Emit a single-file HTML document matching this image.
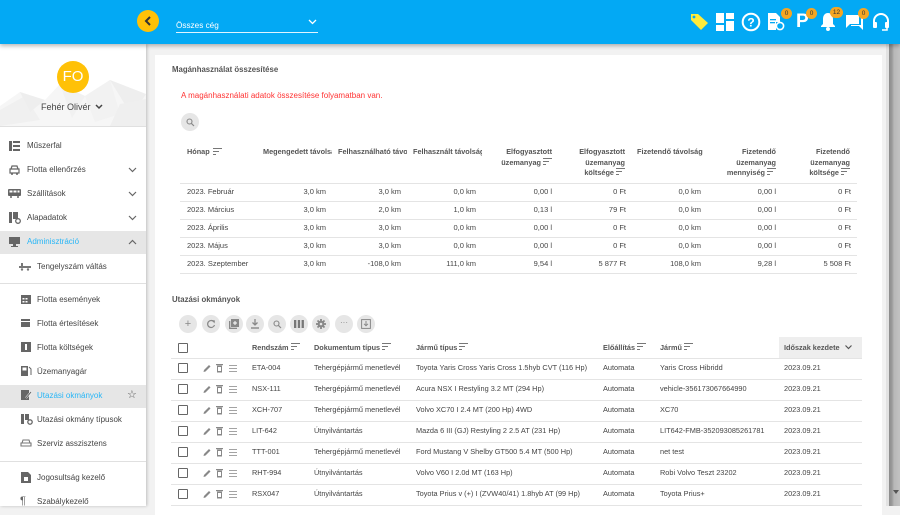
<!DOCTYPE html>
<html><head><meta charset="utf-8">
<style>
*{box-sizing:border-box;margin:0;padding:0}
body{width:900px;height:506px;overflow:hidden;background:#f2f2f2;font-family:"Liberation Sans",Arial,sans-serif;position:relative;color:#333}
.a{position:absolute;white-space:nowrap}
.m{position:absolute;font-size:8px;line-height:10px;color:#444;white-space:nowrap}
.hd{position:absolute;font-size:7.3px;line-height:10.5px;font-weight:bold;color:#555;white-space:nowrap}
.r{text-align:right}
.c{position:absolute;font-size:7.5px;line-height:10px;color:#444;white-space:nowrap}
.l{position:absolute;font-size:7.35px;line-height:10px;color:#444;white-space:nowrap}
.hl{position:absolute;height:1px;background:#e4e4e4}
.cb{position:absolute;width:10px;height:10px;border:1.4px solid #666;border-radius:1px}
.tb{position:absolute;width:18px;height:18px;border-radius:50%;background:#e6e6e6}
.badge{position:absolute;width:11px;height:11px;border-radius:50%;background:#f5a623;color:#333;font-size:6.5px;line-height:11px;text-align:center}
</style></head><body>

<!-- main card -->
<div class="a" style="left:155px;top:55px;width:727px;height:460px;background:#fff"></div>

<!-- scrollbar -->
<div class="a" style="left:886px;top:44px;width:14px;height:462px;background:#e2e2e2"></div>
<div class="a" style="left:889px;top:44px;width:11px;height:462px;background:linear-gradient(to right,#8c8c8c 0,#9a9a9a 3px,#b8b8b8 5px,#c2c2c2 11px)"></div>
<svg class="a" style="left:893px;top:490px" width="6" height="5"><path d="M0 0L6 0L3 4Z" fill="#555"/></svg>

<!-- top bar -->
<div class="a" style="left:0;top:0;width:900px;height:44px;background:#03a9f4;box-shadow:0 2px 4px rgba(0,0,0,.28);z-index:5">
  <div class="a" style="left:137px;top:10px;width:22px;height:22px;border-radius:50%;background:#ffc107"></div>
  <svg class="a" style="left:143px;top:15px" width="10" height="12"><polyline points="7,2 3,6 7,10" fill="none" stroke="#333" stroke-width="2"/></svg>
  <div class="a" style="left:176px;top:20px;font-size:8.2px;line-height:11px;color:#fff">Összes cég</div>
  <div class="a" style="left:176px;top:32px;width:142px;height:1px;background:#e0f4ff"></div>
  <svg class="a" style="left:308px;top:19px" width="9" height="6"><polyline points="1,1 4.5,4.5 8,1" fill="none" stroke="#fff" stroke-width="1.3"/></svg>
  <svg class="a" style="left:689px;top:12px" width="20" height="19" viewBox="0 0 20 19"><path d="M2 2 L9 2 L19 11 L12 18 L2 8 Z" fill="#ffeb3b"/><circle cx="5" cy="5" r="1.4" fill="#03a9f4"/></svg>
  <svg class="a" style="left:716px;top:13px" width="18" height="18" viewBox="0 0 18 18" fill="#fff"><rect x="0" y="0" width="8" height="10"/><rect x="0" y="12" width="8" height="6"/><rect x="10" y="8" width="8" height="10"/><rect x="10" y="0" width="8" height="6"/></svg>
  <svg class="a" style="left:741px;top:12px" width="20" height="20" viewBox="0 0 20 20"><circle cx="10" cy="10" r="8.3" fill="none" stroke="#fff" stroke-width="2"/><text x="10" y="14.5" font-size="12" font-weight="bold" fill="#fff" text-anchor="middle" font-family="Liberation Sans">?</text></svg>
  <svg class="a" style="left:767px;top:13px" width="18" height="18" viewBox="0 0 18 18"><path d="M1 0H9L13 4V9H9V17H1Z" fill="#fff"/><rect x="3" y="6" width="6" height="1.3" fill="#03a9f4"/><rect x="3" y="9" width="5" height="1.3" fill="#03a9f4"/><circle cx="13" cy="13" r="3.6" fill="none" stroke="#fff" stroke-width="1.6"/></svg>
  <div class="badge" style="left:781px;top:8px">0</div>
  <div class="a" style="left:796px;top:11px;font-size:19px;line-height:21px;font-weight:bold;color:#fff">P</div>
  <div class="badge" style="left:806px;top:8px">0</div>
  <svg class="a" style="left:820px;top:12px" width="16" height="19" viewBox="0 0 16 19"><path d="M8 1C4.5 1 3 4 3 7V12L1 14V15H15V14L13 12V7C13 4 11.5 1 8 1Z" fill="#fff"/><circle cx="8" cy="17" r="2" fill="#fff"/></svg>
  <div class="badge" style="left:830px;top:7px;width:13px;border-radius:6px">12</div>
  <svg class="a" style="left:845px;top:13px" width="19" height="18" viewBox="0 0 19 18"><path d="M1 2H14V11H5L1 15Z" fill="#fff"/><path d="M16 5H18V17L14 13H6V12H16Z" fill="#fff"/></svg>
  <div class="badge" style="left:858px;top:8px">0</div>
  <svg class="a" style="left:872px;top:12px" width="18" height="20" viewBox="0 0 18 20"><path d="M2 13V9A7 7 0 0 1 16 9V13" fill="none" stroke="#fff" stroke-width="2"/><rect x="1" y="10" width="4" height="6" rx="1" fill="#fff"/><rect x="13" y="10" width="4" height="6" rx="1" fill="#fff"/><path d="M15 16V18H10" fill="none" stroke="#fff" stroke-width="1.5"/></svg>
</div>

<!-- sidebar -->
<div class="a" style="left:0;top:44px;width:146px;height:462px;background:#fff;box-shadow:1px 0 3px rgba(0,0,0,.22);z-index:2;overflow:hidden">
  <svg class="a" style="left:0;top:0" width="146" height="82" viewBox="0 0 146 82">
    <polygon points="0,62 20,48 45,56 60,40 85,52 110,36 146,50 146,82 0,82" fill="#f6f6f6"/>
    <polygon points="0,66 25,52 40,76 0,82" fill="#f0f0f0"/>
    <polygon points="60,40 85,52 72,74" fill="#f1f1f1"/>
    <polygon points="110,36 146,50 132,72" fill="#eeeeee"/>
    <polygon points="20,48 45,56 30,68" fill="#eeeeee"/>
    <polygon points="85,52 110,36 120,70 95,78" fill="#f2f2f2"/>
    <polygon points="120,60 146,55 146,82 110,82" fill="#efefef"/>
  </svg>
  <div class="a" style="left:57px;top:17px;width:32px;height:32px;border-radius:50%;background:#ffc107;color:#fff;font-size:15px;line-height:32px;text-align:center">FO</div>
  <div class="a" style="left:41px;top:57px;font-size:9px;line-height:12px;color:#444">Fehér Olivér</div>
  <svg class="a" style="left:95px;top:60px" width="8" height="6"><polyline points="1,1 4,4 7,1" fill="none" stroke="#444" stroke-width="1.5"/></svg>
  <div class="a" style="left:0;top:82px;width:146px;height:1px;background:#e0e0e0"></div>
</div>

<div style="position:absolute;left:0;top:0;z-index:3">
  <div class="a" style="left:0;top:231px;width:146px;height:23px;background:#e6e6e6"></div>
  <div class="a" style="left:0;top:385px;width:146px;height:23px;background:#e6e6e6"></div>
  <div class="a" style="left:0;top:283px;width:146px;height:1px;background:#e0e0e0"></div>
  <div class="a" style="left:0;top:461px;width:146px;height:1px;background:#e0e0e0"></div>

  <svg class="a" style="left:9px;top:141px" width="11" height="10"><rect x="0" y="0" width="3" height="10" fill="#666"/><rect x="4" y="0" width="7" height="2" fill="#666"/><rect x="4" y="4" width="7" height="2" fill="#666"/><rect x="4" y="8" width="7" height="2" fill="#666"/></svg>
  <svg class="a" style="left:9px;top:165px" width="11" height="10"><path d="M2 4L3 1H8L9 4M1 4H10V8H1Z" fill="none" stroke="#666" stroke-width="1.2"/><circle cx="3" cy="9" r="1" fill="#666"/><circle cx="8" cy="9" r="1" fill="#666"/></svg>
  <svg class="a" style="left:8px;top:189px" width="13" height="9"><rect x="0" y="0" width="13" height="7" rx="1" fill="#666"/><rect x="1.5" y="1.5" width="3" height="2" fill="#fff"/><rect x="5.5" y="1.5" width="3" height="2" fill="#fff"/><rect x="9.5" y="1.5" width="2" height="2" fill="#fff"/><circle cx="3" cy="8" r="1" fill="#666"/><circle cx="10" cy="8" r="1" fill="#666"/></svg>
  <svg class="a" style="left:9px;top:212px" width="12" height="12"><rect x="0" y="0" width="3" height="11" fill="#666"/><rect x="4" y="0" width="5" height="7" fill="#666"/><circle cx="9" cy="9" r="2.3" fill="none" stroke="#666" stroke-width="1.3"/></svg>
  <svg class="a" style="left:9px;top:237px" width="11" height="10"><rect x="0" y="0" width="11" height="7" fill="#666"/><rect x="4" y="7" width="3" height="2" fill="#666"/><rect x="2" y="9" width="7" height="1" fill="#666"/></svg>

  <div class="m" style="left:27px;top:141px">Műszerfal</div>
  <div class="m" style="left:27px;top:165px">Flotta ellenőrzés</div>
  <div class="m" style="left:27px;top:189px">Szállítások</div>
  <div class="m" style="left:27px;top:213px">Alapadatok</div>
  <div class="m" style="left:27px;top:237px;color:#29b6f6">Adminisztráció</div>
  <svg class="a" style="left:128px;top:167px" width="9" height="6"><polyline points="1,1 4.5,4.5 8,1" fill="none" stroke="#666" stroke-width="1.2"/></svg>
  <svg class="a" style="left:128px;top:191px" width="9" height="6"><polyline points="1,1 4.5,4.5 8,1" fill="none" stroke="#666" stroke-width="1.2"/></svg>
  <svg class="a" style="left:128px;top:215px" width="9" height="6"><polyline points="1,1 4.5,4.5 8,1" fill="none" stroke="#666" stroke-width="1.2"/></svg>
  <svg class="a" style="left:128px;top:239px" width="9" height="6"><polyline points="1,5 4.5,1.5 8,5" fill="none" stroke="#666" stroke-width="1.2"/></svg>

  <svg class="a" style="left:19px;top:262px" width="12" height="9"><rect x="0" y="4" width="12" height="2" fill="#777"/><rect x="2" y="1" width="2" height="5" fill="#777"/><circle cx="3" cy="7.5" r="1.2" fill="#777"/><circle cx="9" cy="7.5" r="1.2" fill="#777"/></svg>
  <svg class="a" style="left:21px;top:294px" width="10" height="10"><rect x="0" y="1" width="10" height="9" fill="#666"/><rect x="1.5" y="4" width="2" height="1.5" fill="#fff"/><rect x="4.5" y="4" width="2" height="1.5" fill="#fff"/><rect x="1.5" y="7" width="2" height="1.5" fill="#fff"/><rect x="4.5" y="7" width="2" height="1.5" fill="#fff"/></svg>
  <svg class="a" style="left:21px;top:318px" width="10" height="10"><rect x="0" y="1" width="9" height="8" fill="#666"/><rect x="0" y="3" width="9" height="1" fill="#fff"/></svg>
  <svg class="a" style="left:21px;top:342px" width="10" height="10"><rect x="0" y="0" width="10" height="10" fill="#666"/><rect x="4" y="2" width="2" height="6" fill="#fff"/></svg>
  <svg class="a" style="left:21px;top:366px" width="11" height="10"><rect x="0" y="0" width="7" height="10" fill="#666"/><rect x="1.5" y="1.5" width="4" height="3" fill="#fff"/><path d="M8 1L10 3V9" fill="none" stroke="#666" stroke-width="1"/></svg>
  <svg class="a" style="left:21px;top:390px" width="11" height="10"><rect x="0" y="0" width="8" height="10" fill="#666"/><path d="M5 8L10 2" stroke="#fff" stroke-width="2"/><path d="M5 8L10 2" stroke="#666" stroke-width="1"/></svg>
  <svg class="a" style="left:21px;top:414px" width="12" height="11"><rect x="0" y="0" width="3" height="10" fill="#666"/><rect x="4" y="0" width="4" height="6" fill="#666"/><circle cx="9" cy="8" r="2.2" fill="none" stroke="#666" stroke-width="1.3"/></svg>
  <svg class="a" style="left:20px;top:439px" width="12" height="9"><path d="M2 4L3 1H9L10 4M1 4H11V7H1Z" fill="none" stroke="#777" stroke-width="1.1"/></svg>
  <svg class="a" style="left:21px;top:472px" width="10" height="11"><path d="M0 0H7L10 3V11H0Z" fill="#666"/><rect x="3" y="5" width="4" height="4" fill="#fff"/></svg>
  <div class="a" style="left:20px;top:495px;font-size:11px;line-height:12px;color:#666">¶</div>

  <div class="m" style="left:37px;top:262px">Tengelyszám váltás</div>
  <div class="m" style="left:37px;top:295px">Flotta események</div>
  <div class="m" style="left:37px;top:319px">Flotta értesítések</div>
  <div class="m" style="left:37px;top:343px">Flotta költségek</div>
  <div class="m" style="left:37px;top:367px">Üzemanyagár</div>
  <div class="m" style="left:37px;top:391px;color:#29b6f6">Utazási okmányok</div>
  <div class="m" style="left:37px;top:415px">Utazási okmány típusok</div>
  <div class="m" style="left:37px;top:439px">Szerviz asszisztens</div>
  <div class="m" style="left:37px;top:473px">Jogosultság kezelő</div>
  <div class="m" style="left:37px;top:497px">Szabálykezelő</div>
  <div class="a" style="left:127px;top:389px;font-size:11px;line-height:13px;color:#555">☆</div>
</div>

<!-- upper card content -->
<div class="a" style="left:172px;top:65px;font-size:7.8px;line-height:10px;font-weight:bold;color:#555">Magánhasználat összesítése</div>
<div class="a" style="left:181px;top:91px;font-size:8px;line-height:10px;color:#f33">A magánhasználati adatok összesítése folyamatban van.</div>
<div class="tb" style="left:181px;top:113px"></div>
<svg class="a" style="left:186px;top:118px" width="9" height="9"><circle cx="3.5" cy="3.5" r="2.5" fill="none" stroke="#888" stroke-width="1.1"/><line x1="5.3" y1="5.3" x2="8" y2="8" stroke="#888" stroke-width="1.2"/></svg>

<div class="hd" style="left:187px;top:147px">Hónap</div>
<svg class="a" style="left:213px;top:148px" width="9" height="7"><g stroke="#777" stroke-width="1"><line x1="0" y1="0.5" x2="9" y2="0.5"/><line x1="0" y1="3.5" x2="6" y2="3.5"/><line x1="0" y1="6.5" x2="3" y2="6.5"/></g></svg>
<div class="hd" style="left:263px;top:147px;width:69px;overflow:hidden">Megengedett távolság</div>
<div class="hd" style="left:338px;top:147px;width:69px;overflow:hidden">Felhasználható távolság</div>
<div class="hd" style="left:413px;top:147px;width:69px;overflow:hidden">Felhasznált távolság</div>
<div class="hd r" style="left:482px;top:147px;width:70px">Elfogyasztott<br>üzemanyag <svg width="9" height="7"><g stroke="#777" stroke-width="1"><line x1="0" y1="0.5" x2="9" y2="0.5"/><line x1="0" y1="3.5" x2="6" y2="3.5"/><line x1="0" y1="6.5" x2="3" y2="6.5"/></g></svg></div>
<div class="hd r" style="left:555px;top:147px;width:70px">Elfogyasztott<br>üzemanyag<br>költsége <svg width="9" height="7"><g stroke="#777" stroke-width="1"><line x1="0" y1="0.5" x2="9" y2="0.5"/><line x1="0" y1="3.5" x2="6" y2="3.5"/><line x1="0" y1="6.5" x2="3" y2="6.5"/></g></svg></div>
<div class="hd" style="left:637px;top:147px;width:70px;overflow:hidden">Fizetendő távolság</div>
<div class="hd r" style="left:706px;top:147px;width:70px">Fizetendő<br>üzemanyag<br>mennyiség <svg width="9" height="7"><g stroke="#777" stroke-width="1"><line x1="0" y1="0.5" x2="9" y2="0.5"/><line x1="0" y1="3.5" x2="6" y2="3.5"/><line x1="0" y1="6.5" x2="3" y2="6.5"/></g></svg></div>
<div class="hd r" style="left:780px;top:147px;width:70px">Fizetendő<br>üzemanyag<br>költsége <svg width="9" height="7"><g stroke="#777" stroke-width="1"><line x1="0" y1="0.5" x2="9" y2="0.5"/><line x1="0" y1="3.5" x2="6" y2="3.5"/><line x1="0" y1="6.5" x2="3" y2="6.5"/></g></svg></div>

<div class="hl" style="left:180px;top:183px;width:677px"></div>
<div class="hl" style="left:180px;top:201px;width:677px"></div>
<div class="hl" style="left:180px;top:219px;width:677px"></div>
<div class="hl" style="left:180px;top:237px;width:677px"></div>
<div class="hl" style="left:180px;top:255px;width:677px"></div>
<div class="hl" style="left:180px;top:273px;width:677px"></div>

<div class="a" style="left:0;top:187px">
<div class="c" style="left:187px">2023. Február</div>
<div class="c r" style="left:256px;width:70px">3,0 km</div><div class="c r" style="left:331px;width:70px">3,0 km</div><div class="c r" style="left:406px;width:70px">0,0 km</div><div class="c r" style="left:482px;width:70px">0,00 l</div><div class="c r" style="left:556px;width:70px">0 Ft</div><div class="c r" style="left:631px;width:70px">0,0 km</div><div class="c r" style="left:706px;width:70px">0,00 l</div><div class="c r" style="left:781px;width:70px">0 Ft</div>
</div>
<div class="a" style="left:0;top:205px">
<div class="c" style="left:187px">2023. Március</div>
<div class="c r" style="left:256px;width:70px">3,0 km</div><div class="c r" style="left:331px;width:70px">2,0 km</div><div class="c r" style="left:406px;width:70px">1,0 km</div><div class="c r" style="left:482px;width:70px">0,13 l</div><div class="c r" style="left:556px;width:70px">79 Ft</div><div class="c r" style="left:631px;width:70px">0,0 km</div><div class="c r" style="left:706px;width:70px">0,00 l</div><div class="c r" style="left:781px;width:70px">0 Ft</div>
</div>
<div class="a" style="left:0;top:223px">
<div class="c" style="left:187px">2023. Április</div>
<div class="c r" style="left:256px;width:70px">3,0 km</div><div class="c r" style="left:331px;width:70px">3,0 km</div><div class="c r" style="left:406px;width:70px">0,0 km</div><div class="c r" style="left:482px;width:70px">0,00 l</div><div class="c r" style="left:556px;width:70px">0 Ft</div><div class="c r" style="left:631px;width:70px">0,0 km</div><div class="c r" style="left:706px;width:70px">0,00 l</div><div class="c r" style="left:781px;width:70px">0 Ft</div>
</div>
<div class="a" style="left:0;top:241px">
<div class="c" style="left:187px">2023. Május</div>
<div class="c r" style="left:256px;width:70px">3,0 km</div><div class="c r" style="left:331px;width:70px">3,0 km</div><div class="c r" style="left:406px;width:70px">0,0 km</div><div class="c r" style="left:482px;width:70px">0,00 l</div><div class="c r" style="left:556px;width:70px">0 Ft</div><div class="c r" style="left:631px;width:70px">0,0 km</div><div class="c r" style="left:706px;width:70px">0,00 l</div><div class="c r" style="left:781px;width:70px">0 Ft</div>
</div>
<div class="a" style="left:0;top:259px">
<div class="c" style="left:187px">2023. Szeptember</div>
<div class="c r" style="left:256px;width:70px">3,0 km</div><div class="c r" style="left:331px;width:70px">-108,0 km</div><div class="c r" style="left:406px;width:70px">111,0 km</div><div class="c r" style="left:482px;width:70px">9,54 l</div><div class="c r" style="left:556px;width:70px">5 877 Ft</div><div class="c r" style="left:631px;width:70px">108,0 km</div><div class="c r" style="left:706px;width:70px">9,28 l</div><div class="c r" style="left:781px;width:70px">5 508 Ft</div>
</div>

<!-- lower section -->
<div class="a" style="left:172px;top:295px;font-size:7.8px;line-height:10px;font-weight:bold;color:#555">Utazási okmányok</div>

<div class="tb" style="left:179px;top:315px"></div><div class="a" style="left:179px;top:315px;width:18px;font-size:11px;line-height:18px;text-align:center;color:#888">+</div>
<div class="tb" style="left:202px;top:315px"></div><svg class="a" style="left:206px;top:319px" width="10" height="10"><path d="M8 3A3.5 3.5 0 1 0 8.5 6" fill="none" stroke="#888" stroke-width="1.2"/><path d="M6 1L9 1.5 8.5 4.5Z" fill="#888"/></svg>
<div class="tb" style="left:225px;top:315px"></div><svg class="a" style="left:229px;top:319px" width="10" height="10"><rect x="2" y="0" width="8" height="8" fill="#888"/><rect x="0" y="2" width="1.3" height="8" fill="#888"/><rect x="0" y="8.7" width="8" height="1.3" fill="#888"/><path d="M6 2V6M4 4H8" stroke="#fff" stroke-width="1"/></svg>
<div class="tb" style="left:246px;top:315px"></div><svg class="a" style="left:250px;top:319px" width="10" height="10"><path d="M5 0V6M2.5 3.5L5 6 7.5 3.5" fill="none" stroke="#888" stroke-width="1.3"/><rect x="1" y="8.3" width="8" height="1.4" fill="#888"/></svg>
<div class="tb" style="left:268px;top:315px"></div><svg class="a" style="left:273px;top:320px" width="9" height="9"><circle cx="3.5" cy="3.5" r="2.5" fill="none" stroke="#888" stroke-width="1.1"/><line x1="5.3" y1="5.3" x2="8" y2="8" stroke="#888" stroke-width="1.2"/></svg>
<div class="tb" style="left:290px;top:315px"></div><svg class="a" style="left:294px;top:320px" width="10" height="8"><rect x="0" y="0" width="2.3" height="8" fill="#777"/><rect x="3.8" y="0" width="2.3" height="8" fill="#777"/><rect x="7.6" y="0" width="2.3" height="8" fill="#777"/></svg>
<div class="tb" style="left:312px;top:315px"></div><svg class="a" style="left:316px;top:319px" width="10" height="10"><circle cx="5" cy="5" r="3.4" fill="#888"/><g stroke="#888" stroke-width="1.8"><line x1="5" y1="0" x2="5" y2="10"/><line x1="0" y1="5" x2="10" y2="5"/><line x1="1.5" y1="1.5" x2="8.5" y2="8.5"/><line x1="8.5" y1="1.5" x2="1.5" y2="8.5"/></g><circle cx="5" cy="5" r="1.3" fill="#e6e6e6"/></svg>
<div class="tb" style="left:335px;top:315px"></div><div class="a" style="left:335px;top:315px;width:18px;font-size:8px;line-height:16px;text-align:center;color:#888">···</div>
<div class="tb" style="left:357px;top:315px"></div><svg class="a" style="left:361px;top:319px" width="10" height="10"><rect x="0.6" y="0.6" width="8.8" height="8.8" fill="none" stroke="#888" stroke-width="1"/><path d="M5 2V6.5M3 4.8L5 6.8 7 4.8" fill="none" stroke="#888" stroke-width="1"/></svg>

<div class="a" style="left:779px;top:337px;width:83px;height:21px;background:#eeeeee"></div>
<div class="cb" style="left:178px;top:343px"></div>
<div class="hd" style="left:252px;top:343px">Rendszám <svg width="9" height="7"><g stroke="#777" stroke-width="1"><line x1="0" y1="0.5" x2="9" y2="0.5"/><line x1="0" y1="3.5" x2="6" y2="3.5"/><line x1="0" y1="6.5" x2="3" y2="6.5"/></g></svg></div>
<div class="hd" style="left:314px;top:343px">Dokumentum típus <svg width="9" height="7"><g stroke="#777" stroke-width="1"><line x1="0" y1="0.5" x2="9" y2="0.5"/><line x1="0" y1="3.5" x2="6" y2="3.5"/><line x1="0" y1="6.5" x2="3" y2="6.5"/></g></svg></div>
<div class="hd" style="left:416px;top:343px">Jármű típus <svg width="9" height="7"><g stroke="#777" stroke-width="1"><line x1="0" y1="0.5" x2="9" y2="0.5"/><line x1="0" y1="3.5" x2="6" y2="3.5"/><line x1="0" y1="6.5" x2="3" y2="6.5"/></g></svg></div>
<div class="hd" style="left:603px;top:343px">Előállítás <svg width="9" height="7"><g stroke="#777" stroke-width="1"><line x1="0" y1="0.5" x2="9" y2="0.5"/><line x1="0" y1="3.5" x2="6" y2="3.5"/><line x1="0" y1="6.5" x2="3" y2="6.5"/></g></svg></div>
<div class="hd" style="left:660px;top:343px">Jármű <svg width="9" height="7"><g stroke="#777" stroke-width="1"><line x1="0" y1="0.5" x2="9" y2="0.5"/><line x1="0" y1="3.5" x2="6" y2="3.5"/><line x1="0" y1="6.5" x2="3" y2="6.5"/></g></svg></div>
<div class="hd" style="left:784px;top:343px">Időszak kezdete</div>
<svg class="a" style="left:845px;top:345px" width="7" height="5"><polyline points="0.5,0.5 3.5,3.5 6.5,0.5" fill="none" stroke="#555" stroke-width="1.2"/></svg>

<div class="hl" style="left:171px;top:358px;width:691px"></div>
<div class="hl" style="left:171px;top:379px;width:691px"></div>
<div class="hl" style="left:171px;top:400px;width:691px"></div>
<div class="hl" style="left:171px;top:421px;width:691px"></div>
<div class="hl" style="left:171px;top:442px;width:691px"></div>
<div class="hl" style="left:171px;top:463px;width:691px"></div>
<div class="hl" style="left:171px;top:484px;width:691px"></div>
<div class="hl" style="left:171px;top:505px;width:691px"></div>

<div class="a" style="left:0;top:363px">
<div class="cb" style="left:178px;top:0"></div>
<svg class="a" style="left:203px;top:1px" width="22" height="9"><path d="M0.5 8L1 6 6 1 7.5 2.5 2.5 7.5Z" fill="#888"/><rect x="14" y="1.5" width="5" height="7" fill="#888"/><rect x="13" y="0" width="7" height="1.2" fill="#888"/><rect x="15" y="3" width="3" height="4" fill="#fff"/></svg>
<svg class="a" style="left:229px;top:1px" width="9" height="9"><g stroke="#999" stroke-width="0.9"><line x1="0" y1="1.5" x2="8" y2="1.5"/><line x1="0" y1="4.5" x2="8" y2="4.5"/><line x1="0" y1="7.5" x2="8" y2="7.5"/></g></svg>
<div class="l" style="left:252px">ETA-004</div><div class="l" style="left:314px">Tehergépjármű menetlevél</div><div class="l" style="left:416px">Toyota Yaris Cross Yaris Cross 1.5hyb CVT (116 Hp)</div><div class="l" style="left:603px">Automata</div><div class="l" style="left:660px">Yaris Cross Hibridd</div><div class="l" style="left:784px">2023.09.21</div>
</div>
<div class="a" style="left:0;top:384px">
<div class="cb" style="left:178px;top:0"></div>
<svg class="a" style="left:203px;top:1px" width="22" height="9"><path d="M0.5 8L1 6 6 1 7.5 2.5 2.5 7.5Z" fill="#888"/><rect x="14" y="1.5" width="5" height="7" fill="#888"/><rect x="13" y="0" width="7" height="1.2" fill="#888"/><rect x="15" y="3" width="3" height="4" fill="#fff"/></svg>
<svg class="a" style="left:229px;top:1px" width="9" height="9"><g stroke="#999" stroke-width="0.9"><line x1="0" y1="1.5" x2="8" y2="1.5"/><line x1="0" y1="4.5" x2="8" y2="4.5"/><line x1="0" y1="7.5" x2="8" y2="7.5"/></g></svg>
<div class="l" style="left:252px">NSX-111</div><div class="l" style="left:314px">Tehergépjármű menetlevél</div><div class="l" style="left:416px">Acura NSX I Restyling 3.2 MT (294 Hp)</div><div class="l" style="left:603px">Automata</div><div class="l" style="left:660px">vehicle-356173067664990</div><div class="l" style="left:784px">2023.09.21</div>
</div>
<div class="a" style="left:0;top:405px">
<div class="cb" style="left:178px;top:0"></div>
<svg class="a" style="left:203px;top:1px" width="22" height="9"><path d="M0.5 8L1 6 6 1 7.5 2.5 2.5 7.5Z" fill="#888"/><rect x="14" y="1.5" width="5" height="7" fill="#888"/><rect x="13" y="0" width="7" height="1.2" fill="#888"/><rect x="15" y="3" width="3" height="4" fill="#fff"/></svg>
<svg class="a" style="left:229px;top:1px" width="9" height="9"><g stroke="#999" stroke-width="0.9"><line x1="0" y1="1.5" x2="8" y2="1.5"/><line x1="0" y1="4.5" x2="8" y2="4.5"/><line x1="0" y1="7.5" x2="8" y2="7.5"/></g></svg>
<div class="l" style="left:252px">XCH-707</div><div class="l" style="left:314px">Tehergépjármű menetlevél</div><div class="l" style="left:416px">Volvo XC70 I 2.4 MT (200 Hp) 4WD</div><div class="l" style="left:603px">Automata</div><div class="l" style="left:660px">XC70</div><div class="l" style="left:784px">2023.09.21</div>
</div>
<div class="a" style="left:0;top:426px">
<div class="cb" style="left:178px;top:0"></div>
<svg class="a" style="left:203px;top:1px" width="22" height="9"><path d="M0.5 8L1 6 6 1 7.5 2.5 2.5 7.5Z" fill="#888"/><rect x="14" y="1.5" width="5" height="7" fill="#888"/><rect x="13" y="0" width="7" height="1.2" fill="#888"/><rect x="15" y="3" width="3" height="4" fill="#fff"/></svg>
<svg class="a" style="left:229px;top:1px" width="9" height="9"><g stroke="#999" stroke-width="0.9"><line x1="0" y1="1.5" x2="8" y2="1.5"/><line x1="0" y1="4.5" x2="8" y2="4.5"/><line x1="0" y1="7.5" x2="8" y2="7.5"/></g></svg>
<div class="l" style="left:252px">LIT-642</div><div class="l" style="left:314px">Útnyilvántartás</div><div class="l" style="left:416px">Mazda 6 III (GJ) Restyling 2 2.5 AT (231 Hp)</div><div class="l" style="left:603px">Automata</div><div class="l" style="left:660px">LIT642-FMB-352093085261781</div><div class="l" style="left:784px">2023.09.21</div>
</div>
<div class="a" style="left:0;top:447px">
<div class="cb" style="left:178px;top:0"></div>
<svg class="a" style="left:203px;top:1px" width="22" height="9"><path d="M0.5 8L1 6 6 1 7.5 2.5 2.5 7.5Z" fill="#888"/><rect x="14" y="1.5" width="5" height="7" fill="#888"/><rect x="13" y="0" width="7" height="1.2" fill="#888"/><rect x="15" y="3" width="3" height="4" fill="#fff"/></svg>
<svg class="a" style="left:229px;top:1px" width="9" height="9"><g stroke="#999" stroke-width="0.9"><line x1="0" y1="1.5" x2="8" y2="1.5"/><line x1="0" y1="4.5" x2="8" y2="4.5"/><line x1="0" y1="7.5" x2="8" y2="7.5"/></g></svg>
<div class="l" style="left:252px">TTT-001</div><div class="l" style="left:314px">Tehergépjármű menetlevél</div><div class="l" style="left:416px">Ford Mustang V Shelby GT500 5.4 MT (500 Hp)</div><div class="l" style="left:603px">Automata</div><div class="l" style="left:660px">net test</div><div class="l" style="left:784px">2023.09.21</div>
</div>
<div class="a" style="left:0;top:468px">
<div class="cb" style="left:178px;top:0"></div>
<svg class="a" style="left:203px;top:1px" width="22" height="9"><path d="M0.5 8L1 6 6 1 7.5 2.5 2.5 7.5Z" fill="#888"/><rect x="14" y="1.5" width="5" height="7" fill="#888"/><rect x="13" y="0" width="7" height="1.2" fill="#888"/><rect x="15" y="3" width="3" height="4" fill="#fff"/></svg>
<svg class="a" style="left:229px;top:1px" width="9" height="9"><g stroke="#999" stroke-width="0.9"><line x1="0" y1="1.5" x2="8" y2="1.5"/><line x1="0" y1="4.5" x2="8" y2="4.5"/><line x1="0" y1="7.5" x2="8" y2="7.5"/></g></svg>
<div class="l" style="left:252px">RHT-994</div><div class="l" style="left:314px">Útnyilvántartás</div><div class="l" style="left:416px">Volvo V60 I 2.0d MT (163 Hp)</div><div class="l" style="left:603px">Automata</div><div class="l" style="left:660px">Robi Volvo Teszt 23202</div><div class="l" style="left:784px">2023.09.21</div>
</div>
<div class="a" style="left:0;top:489px">
<div class="cb" style="left:178px;top:0"></div>
<svg class="a" style="left:203px;top:1px" width="22" height="9"><path d="M0.5 8L1 6 6 1 7.5 2.5 2.5 7.5Z" fill="#888"/><rect x="14" y="1.5" width="5" height="7" fill="#888"/><rect x="13" y="0" width="7" height="1.2" fill="#888"/><rect x="15" y="3" width="3" height="4" fill="#fff"/></svg>
<svg class="a" style="left:229px;top:1px" width="9" height="9"><g stroke="#999" stroke-width="0.9"><line x1="0" y1="1.5" x2="8" y2="1.5"/><line x1="0" y1="4.5" x2="8" y2="4.5"/><line x1="0" y1="7.5" x2="8" y2="7.5"/></g></svg>
<div class="l" style="left:252px">RSX047</div><div class="l" style="left:314px">Útnyilvántartás</div><div class="l" style="left:416px">Toyota Prius v (+) I (ZVW40/41) 1.8hyb AT (99 Hp)</div><div class="l" style="left:603px">Automata</div><div class="l" style="left:660px">Toyota Prius+</div><div class="l" style="left:784px">2023.09.21</div>
</div>

</body></html>
